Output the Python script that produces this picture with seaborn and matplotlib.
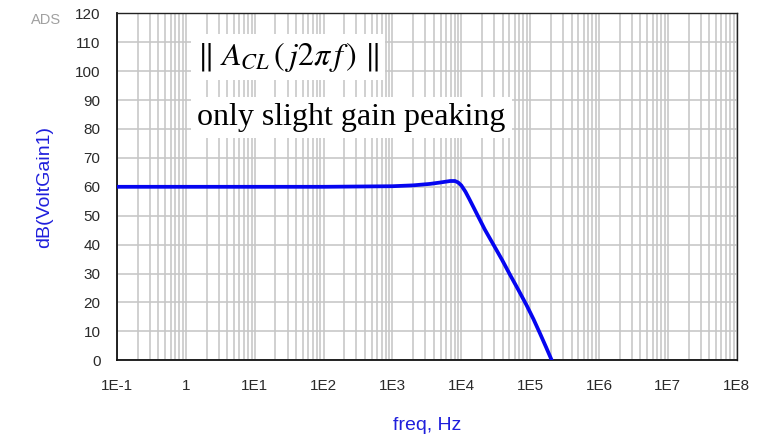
import matplotlib
matplotlib.use("Agg")
import matplotlib.pyplot as plt
import numpy as np
import pandas as pd
import seaborn as sns
from matplotlib.ticker import FixedLocator, FixedFormatter, LogLocator, MultipleLocator, NullFormatter

# ---- data ----
freq_hz = [0.1, 1, 10, 100, 1e3, 2e3, 3.5e3, 5e3, 6.9e3, 8.1e3, 9.0e3, 1.0e4, 1.15e4,
           1.3e4, 1.5e4, 1.67e4, 2.2e4, 2.93e4, 3.9e4, 5.1e4, 6.8e4, 8.9e4, 1.12e5,
           1.39e5, 1.7e5, 2.06e5]
gain_db = [60, 60, 60, 60, 60.2, 60.5, 61.0, 61.5, 62.0, 62.0, 61.5, 60.5, 58.3,
           55.9, 53.0, 50.8, 45.2, 40.0, 34.8, 29.6, 24.2, 19.0, 14.2,
           9.3, 4.6, 0]
x_ticks = [1e-1, 1, 1e1, 1e2, 1e3, 1e4, 1e5, 1e6, 1e7, 1e8]
x_tick_labels = ["1E-1", "1", "1E1", "1E2", "1E3", "1E4", "1E5", "1E6", "1E7", "1E8"]
y_ticks = list(range(0, 121, 10))
x_label = "freq, Hz"
y_label = "dB(VoltGain1)"
title_expr = r"$\|\ A_{CL}\,(\,j2\pi\,f\,)\ \|$"
note_text = "only slight gain peaking"

sns.set_style("white")
plt.rcParams["font.family"] = ["Liberation Sans", "DejaVu Sans"]
plt.rcParams["mathtext.fontset"] = "stix"

W, H = 774, 437
fig = plt.figure(figsize=(W / 100, H / 100), dpi=100)
x0, x1, y_top, y_bot = 117, 736.7, 13.3, 360.3
ax = fig.add_axes([x0 / W, 1 - y_bot / H, (x1 - x0) / W, (y_bot - y_top) / H])

df = pd.DataFrame({"freq": freq_hz, "gain": gain_db})
sns.lineplot(data=df, x="freq", y="gain", ax=ax, color="#0505f0", linewidth=2.7,
             estimator=None, sort=False, zorder=5)

ax.set_xscale("log")
ax.set_xlim(0.1, 1e8)
ax.set_ylim(0, 120)

ax.xaxis.set_major_locator(FixedLocator(x_ticks))
ax.xaxis.set_major_formatter(FixedFormatter(x_tick_labels))
ax.xaxis.set_minor_locator(LogLocator(base=10, subs=np.arange(2, 10), numticks=100))
ax.xaxis.set_minor_formatter(NullFormatter())
ax.yaxis.set_major_locator(FixedLocator(y_ticks))
ax.yaxis.set_minor_locator(MultipleLocator(5))

grid_c = "#c6c6c6"
ax.grid(False)
ax.xaxis.grid(True, which="both", color=grid_c, linewidth=1.15)
ax.yaxis.grid(True, which="major", color=grid_c, linewidth=1.15)
ax.set_axisbelow(True)

ax.tick_params(axis="both", which="major", direction="out", length=10.8, width=1.1,
               color="#222222", labelsize=11, labelcolor="#2a2a2a")
ax.tick_params(axis="x", which="major", pad=3)
ax.tick_params(axis="y", which="major", pad=1)
ax.tick_params(axis="x", which="minor", length=0)
ax.tick_params(axis="y", which="minor", direction="out", length=5, width=1.1, color="#222222")

for side in ["left", "bottom"]:
    ax.spines[side].set_linewidth(1.3)
    ax.spines[side].set_color("#111111")
for side in ["top", "right"]:
    ax.spines[side].set_linewidth(1.0)
    ax.spines[side].set_color("#222222")

lab_c = "#1f1fdc"
ax.set_xlabel(x_label, fontsize=14, color=lab_c, va="center")
ax.xaxis.set_label_coords(0.50, (y_bot - 425) / (y_bot - y_top))
ax.set_ylabel(y_label, fontsize=14, color=lab_c, va="center")
ax.yaxis.set_label_coords((45 - x0) / (x1 - x0), 0.5)

box = dict(boxstyle="square,pad=0.2", facecolor="white", edgecolor="none")
ax.text((197 - x0) / (x1 - x0), (y_bot - 57) / (y_bot - y_top), title_expr,
        transform=ax.transAxes, fontsize=23, ha="left", va="center", color="black",
        bbox=box, zorder=6)
ax.text((197 - x0) / (x1 - x0), (y_bot - 117.5) / (y_bot - y_top), note_text,
        transform=ax.transAxes, fontsize=23, ha="left", va="center", color="black",
        family=["Liberation Serif", "DejaVu Serif"], bbox=box, zorder=6)

fig.text(46 / W, 1 - 20 / H, "ADS", fontsize=10.5, color="#a0a0a0", ha="center", va="center")

fig.savefig("out.png", dpi=100)
